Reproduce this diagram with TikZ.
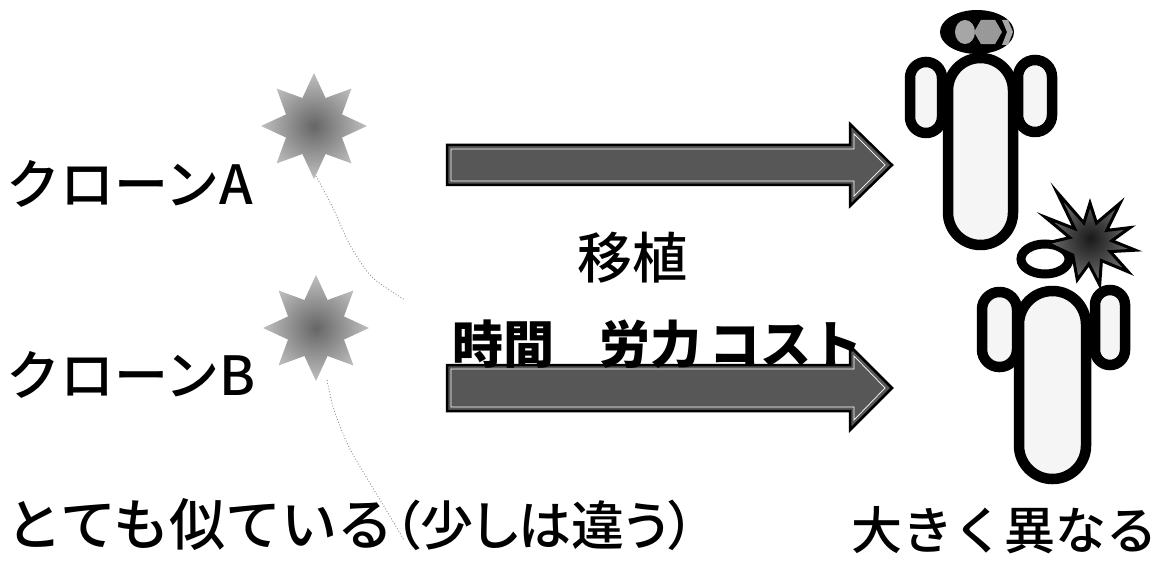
\documentclass[tikz,border=0pt]{standalone}
\usepackage{fontspec}
\newfontfamily\jpbase{Noto Sans CJK JP}
\IfFontExistsTF{Noto Sans CJK JP Medium}
  {\newfontfamily\jp{Noto Sans CJK JP Medium}
   \newfontfamily\jpp[RawFeature=+palt]{Noto Sans CJK JP Medium}}
  {\newfontfamily\jp{Noto Sans CJK JP}
   \newfontfamily\jpp[RawFeature=+palt]{Noto Sans CJK JP}}
\newcommand\jpb{\jpbase\bfseries}
\usetikzlibrary{shapes.geometric}
\begin{document}
\begin{tikzpicture}[x=1pt,y=-1pt,
  txt/.style={inner sep=0pt, font=\jp\fontsize{#1}{#1}\selectfont},
  txt/.default=54,
  costtxt/.style={inner sep=0pt, font=\jpb\fontsize{51}{51}\selectfont},
  halftone/.style={star, star points=8, star point ratio=1.75, minimum size=106pt,
    inner sep=0pt, shading=radial, inner color=black!60, outer color=black!25},
  trail/.style={draw=black!45, line width=0.9pt, dotted},
  blockarrow/.style={fill=black!66, draw=black, line width=2.5pt, line join=miter},
  figline/.style={draw=black, line width=10.5pt, fill=black!4},
  boom/.style={draw=black, line width=3pt, line join=miter, shading=radial,
    inner color=black!90, outer color=black!55},
  pics/fatarrow/.style args={#1/#2}{code={
    \path[blockarrow] (0,-#1) -- (403,-#1) -- (403,-#2) -- (445,0) -- (403,#2)
      -- (403,#1) -- (0,#1) -- cycle;
    \draw[white, line width=0.7pt] (4,{-#1+4}) -- (407,{-#1+4}) -- (407,{-#2+10})
      -- (438,0) -- (407,{#2-10}) -- (407,{#1-4}) -- (4,{#1-4}) -- cycle;
  }}
]
\useasboundingbox (0,0) rectangle (1161,561);

% clone labels
\node[txt, anchor=base west] (cloneA) at (6,205) {クローンA};
\node[txt, anchor=base west] (cloneB) at (6,395) {クローンB};

% halftone stars and their faint trails
\draw[trail] plot[smooth] coordinates {(316,176) (333,208) (350,245) (372,277) (405,300)};
\draw[trail] plot[smooth] coordinates {(327,380) (334,410) (348,445) (362,470) (385,508) (404,540)};
\node[halftone] (starA) at (314,126) {};
\node[halftone] (starB) at (316,328) {};

% transplant arrows
\pic at (447,165) {fatarrow=20/41};
\pic at (447,388) {fatarrow=23/42};

% arrow labels
\node[txt=55, anchor=base] (transplant) at (632,279) {移植};
\node[costtxt, anchor=base] (costA) at (503,363) {時間};
\node[costtxt, anchor=base] (costB) at (650,363) {労力};
\node[costtxt, anchor=base west] (costC) at (709,363) {コスト};

% upper figure with halo
\draw[figline, rounded corners=15.9pt] (910,62) rectangle (942,133);
\draw[figline, rounded corners=16.9pt] (1018,60) rectangle (1052,132);
\draw[figline, rounded corners=32.4pt] (948,58) rectangle (1013,245);
\fill[black] (977,32) ellipse [x radius=37, y radius=22];
\fill[black!35] (965,32) ellipse [x radius=10, y radius=12];
\fill[black!40] (988,32) ++(0:14) -- ++(120:14) -- ++(180:14) -- ++(240:14) -- ++(300:14) -- ++(0:14) -- cycle;
\fill[black!35] (1002,20) -- (1008,20) -- (1013,32) -- (1008,45) -- (1002,45) -- (1007,32) -- cycle;

% lower figure with broken halo
\draw[figline, rounded corners=17.4pt] (982,292) rectangle (1017,367);
\draw[figline, rounded corners=14.9pt] (1095,290) rectangle (1125,365);
\draw[figline, rounded corners=33.4pt] (1019,291) rectangle (1086,479);
\draw[draw=black, line width=9pt, fill=white] (1045,259) ellipse [x radius=24, y radius=15];
\begin{scope}[shift={(1090,243)}]
  \path[boom] (237:61) -- (253:21) -- (270:40) -- (288:21) -- (307:50) -- (323:21)
    -- (339:43) -- (354:22) -- (9:46) -- (23:22) -- (37:48) -- (57:21) -- (77:43)
    -- (93:21) -- (109:39) -- (145:21) -- (180:43) -- (195:21) -- (210:52)
    -- (223:21) -- cycle;
\end{scope}

% bottom captions
\node[txt=56, anchor=base west] (similar) at (6,545) {とても似ている};
\node[inner sep=0pt, font=\jpp\fontsize{53}{53}\selectfont, anchor=base west]
  (slightly) at (similar.base east) {（少しは違う）};
\node[txt=51, anchor=base west] (differ) at (851,549) {大きく異なる};
\end{tikzpicture}
\end{document}
